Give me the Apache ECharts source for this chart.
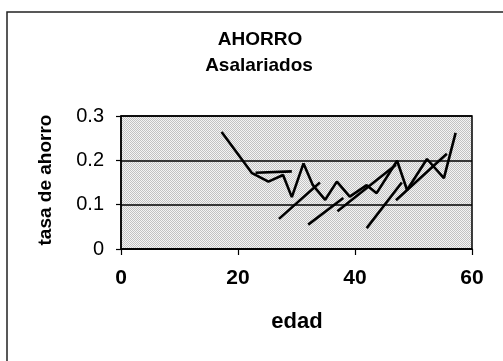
<!DOCTYPE html>
<html>
<head>
<meta charset="utf-8">
<script src="https://cdn.jsdelivr.net/npm/echarts@6/dist/echarts.min.js"></script>
<style>
  html, body { margin: 0; padding: 0; background: #fff; }
  #chart { width: 503px; height: 361px; }
</style>
</head>
<body>
<div id="chart"></div>
<script>
// main cross-section line: edad vs tasa de ahorro
const mainAges = [17.2, 22.4, 25.2, 27.7, 29.2, 31.2, 32.8, 34.9, 36.9, 39.1, 42, 43.7, 47.2, 48.9, 52.3, 55.2, 57.2];
const mainRates = [0.264, 0.171, 0.152, 0.167, 0.117, 0.193, 0.144, 0.111, 0.152, 0.118, 0.144, 0.126, 0.199, 0.133, 0.203, 0.16, 0.262];

// short cohort lines (start, end)
const cohortAges = [[23, 29.2], [27, 34], [32, 38], [37, 47], [42, 48], [47, 55.7]];
const cohortRates = [[0.172, 0.175], [0.068, 0.15], [0.055, 0.115], [0.085, 0.19], [0.047, 0.15], [0.11, 0.215]];

const xTicks = [0, 20, 40, 60];
const yTicks = [0, 0.1, 0.2, 0.3];

const titleLines = ["AHORRO", "Asalariados"];
const xName = "edad";
const yName = "tasa de ahorro";

let option;

function makePattern() {
  const c = document.createElement("canvas");
  c.width = 2;
  c.height = 2;
  const ctx = c.getContext("2d");
  ctx.fillStyle = "#f4f4f4";
  ctx.fillRect(0, 0, 2, 2);
  ctx.fillStyle = "#c2c2c2";
  ctx.fillRect(0, 0, 1, 1);
  ctx.fillRect(1, 1, 1, 1);
  return c;
}

function toPairs(xs, ys) {
  return xs.map((x, i) => [x, ys[i]]);
}

function initOpt() {
  const lineStyle = { color: "#000", width: 2.6 };
  const series = [
    {
      type: "line",
      data: toPairs(mainAges, mainRates),
      showSymbol: false,
      lineStyle: lineStyle,
      silent: true,
    },
  ];
  cohortAges.forEach((ages, i) => {
    series.push({
      type: "line",
      data: toPairs(ages, cohortRates[i]),
      showSymbol: false,
      lineStyle: lineStyle,
      silent: true,
    });
  });

  option = {
    animation: false,
    backgroundColor: "#fff",
    textStyle: { fontFamily: "Liberation Sans" },
    grid: {
      left: 121,
      top: 116,
      right: 31,
      bottom: 112,
      show: true,
      backgroundColor: { image: makePattern(), repeat: "repeat" },
      borderColor: "#000",
      borderWidth: 1.5,
    },
    xAxis: {
      type: "value",
      min: xTicks[0],
      max: xTicks[xTicks.length - 1],
      interval: 20,
      axisLine: { show: true, lineStyle: { color: "#000", width: 1.5 } },
      axisTick: { show: true, length: 6, lineStyle: { color: "#000", width: 1.2 } },
      axisLabel: {
        margin: 19,
        color: "#000",
        fontSize: 21,
        fontWeight: "bold",
        fontFamily: "Liberation Sans",
      },
      splitLine: { show: false },
    },
    yAxis: {
      type: "value",
      min: yTicks[0],
      max: yTicks[yTicks.length - 1],
      interval: 0.1,
      axisLine: { show: true, lineStyle: { color: "#000", width: 1.5 } },
      axisTick: { show: true, length: 5, lineStyle: { color: "#000", width: 1.2 } },
      axisLabel: {
        margin: 17,
        color: "#000",
        fontSize: 20,
        fontFamily: "Liberation Sans",
      },
      splitLine: { show: true, lineStyle: { color: "#000", width: 1.5 } },
    },
    graphic: [
      {
        type: "polyline",
        shape: { points: [[7, 361], [7, 12], [503, 12]] },
        style: { stroke: "#222", lineWidth: 1.5, fill: null },
      },
      {
        type: "text",
        x: 260,
        y: 40,
        style: {
          text: titleLines[0],
          font: "bold 19px 'Liberation Sans'",
          fill: "#000",
          textAlign: "center",
          textVerticalAlign: "middle",
        },
      },
      {
        type: "text",
        x: 259,
        y: 66,
        style: {
          text: titleLines[1],
          font: "bold 19px 'Liberation Sans'",
          fill: "#000",
          textAlign: "center",
          textVerticalAlign: "middle",
        },
      },
      {
        type: "text",
        x: 297,
        y: 322,
        style: {
          text: xName,
          font: "bold 22px 'Liberation Sans'",
          fill: "#000",
          textAlign: "center",
          textVerticalAlign: "middle",
        },
      },
      {
        type: "text",
        x: 46,
        y: 180,
        rotation: Math.PI / 2,
        style: {
          text: yName,
          font: "bold 19px 'Liberation Sans'",
          fill: "#000",
          textAlign: "center",
          textVerticalAlign: "middle",
        },
      },
    ],
    series: series,
  };
}

function initView() {
  initOpt();
  const chartDom = document.getElementById("chart");
  const chart = echarts.init(chartDom);
  option && chart.setOption(option);
}

initView();
</script>
</body>
</html>
